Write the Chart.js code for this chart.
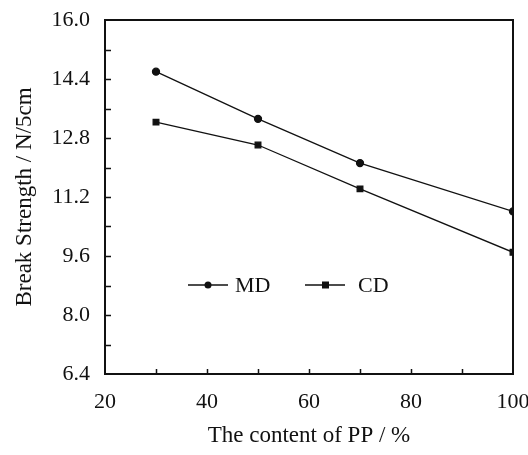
<!DOCTYPE html>
<html>
<head>
<meta charset="utf-8">
<script src="https://cdn.jsdelivr.net/npm/chart.js@4/dist/chart.umd.min.js"></script>
<style>
  html, body { margin: 0; padding: 0; background: #fff; }
  #wrap { width: 528px; height: 455px; }
</style>
</head>
<body>
<div id="wrap"><canvas id="myChart" width="528" height="455"></canvas></div>
<script>
// values
const pp_content = [30, 50, 70, 100];
const md_strength = [14.60, 13.32, 12.12, 10.81];
const cd_strength = [13.23, 12.61, 11.42, 9.70];
const series_names = ["MD", "CD"];
const x_title = "The content of PP / %";
const y_title = "Break Strength / N/5cm";

const serif = "'Liberation Serif', 'Times New Roman', serif";
const ink = "#111";

function toPoints(xs, ys) {
  return xs.map((x, i) => ({ x: x, y: ys[i] }));
}

// small tick marks pointing into the plot, plus the closed frame
const frameTicks = {
  id: "frameTicks",
  afterDatasetsDraw(chart) {
    let ctx = chart.ctx;
    let area = chart.chartArea;
    let xs = chart.scales.x;
    let ys = chart.scales.y;
    ctx.save();
    ctx.strokeStyle = ink;
    ctx.lineWidth = 1.5;
    ctx.beginPath();
    xs.ticks.forEach((t) => {
      let px = Math.round(xs.getPixelForValue(t.value)) + 0.5;
      if (px <= area.left + 2 || px >= area.right - 2) return;
      ctx.moveTo(px, area.bottom);
      ctx.lineTo(px, area.bottom - 5);
    });
    ys.ticks.forEach((t) => {
      let py = Math.round(ys.getPixelForValue(t.value)) + 0.5;
      if (py <= area.top + 2 || py >= area.bottom - 2) return;
      ctx.moveTo(area.left, py);
      ctx.lineTo(area.left + 6, py);
    });
    ctx.stroke();
    ctx.lineWidth = 2;
    ctx.strokeRect(area.left, area.top, area.right - area.left, area.bottom - area.top);
    ctx.restore();
  },
};

// legend sits inside the plot, below the lines
const innerLegend = {
  id: "innerLegend",
  afterDatasetsDraw(chart) {
    let ctx = chart.ctx;
    let area = chart.chartArea;
    let y = area.top + 265;
    let starts = [area.left + 83, area.left + 200];
    ctx.save();
    ctx.font = "22px " + serif;
    ctx.fillStyle = ink;
    ctx.textBaseline = "middle";
    chart.data.datasets.forEach((ds, i) => {
      let x0 = starts[i];
      ctx.strokeStyle = ink;
      ctx.lineWidth = 1.3;
      ctx.beginPath();
      ctx.moveTo(x0, y);
      ctx.lineTo(x0 + 40, y);
      ctx.stroke();
      if (ds.pointStyle === "rect") {
        ctx.fillRect(x0 + 17, y - 3.5, 7, 7);
      } else {
        ctx.beginPath();
        ctx.arc(x0 + 20, y, 3.5, 0, Math.PI * 2);
        ctx.fill();
      }
      ctx.fillText(ds.label, x0 + (i === 0 ? 47 : 53), y + 1);
    });
    ctx.restore();
  },
};

const ctx = document.getElementById("myChart");

new Chart(ctx, {
  type: "line",
  data: {
    datasets: [
      {
        label: series_names[0],
        data: toPoints(pp_content, md_strength),
        borderColor: ink,
        backgroundColor: ink,
        borderWidth: 1.3,
        pointStyle: "circle",
        pointRadius: 3.5,
        tension: 0,
      },
      {
        label: series_names[1],
        data: toPoints(pp_content, cd_strength),
        borderColor: ink,
        backgroundColor: ink,
        borderWidth: 1.3,
        pointStyle: "rect",
        pointRadius: 4,
        tension: 0,
      },
    ],
  },
  options: {
    responsive: false,
    animation: false,
    layout: { padding: { left: 7, right: 15, top: 20, bottom: 1 } },
    plugins: {
      legend: { display: false },
      tooltip: { enabled: false },
    },
    scales: {
      x: {
        type: "linear",
        min: 20,
        max: 100,
        grid: { display: false },
        border: { display: false },
        afterFit: (scale) => {
          scale.height = 80;
          scale.paddingLeft = 0;
          scale.paddingRight = 15;
        },
        ticks: {
          stepSize: 10,
          autoSkip: false,
          maxRotation: 0,
          padding: 7,
          color: ink,
          font: { family: serif, size: 22 },
          callback: (v) => (v % 20 === 0 ? String(v) : ""),
        },
        title: {
          display: true,
          text: x_title,
          color: ink,
          padding: { top: 14 },
          font: { family: serif, size: 23 },
        },
      },
      y: {
        min: 6.4,
        max: 16.0,
        grid: { display: false },
        border: { display: false },
        afterFit: (scale) => {
          scale.width = 98;
          scale.paddingTop = 0;
          scale.paddingBottom = 0;
        },
        ticks: {
          stepSize: 0.8,
          autoSkip: false,
          padding: 7,
          color: ink,
          font: { family: serif, size: 22 },
          callback: (v, i) => (i % 2 === 0 ? Number(v).toFixed(1) : ""),
        },
        title: {
          display: true,
          text: y_title,
          color: ink,
          padding: { bottom: 10 },
          font: { family: serif, size: 23 },
        },
      },
    },
  },
  plugins: [frameTicks, innerLegend],
});
</script>
</body>
</html>
